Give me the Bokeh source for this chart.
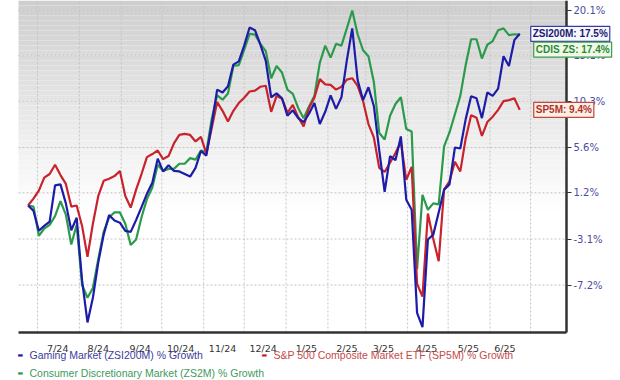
from datetime import datetime, timedelta
import numpy as np
from bokeh.plotting import figure
from bokeh.models import (ColumnDataSource, Range1d, FixedTicker, CustomJSTickFormatter,
                          Label, BoxAnnotation)
from bokeh.embed import file_html
from bokeh.resources import INLINE

# ---------------- data (percent growth, sampled every 4 days) ----------------
start_date = datetime(2024, 6, 24)
step_days = 4

gaming = [0.0, -0.5, -2.35, -1.9, -1.5, 1.9, 2.0, 0.2, -2.3, -1.15,
          -6.8, -10.4, -8.3, -5.2, -2.7, -0.9, -1.4, -1.6, -2.35, -2.45,
          -1.35, -0.15, 1.1, 2.15, 4.5, 3.25, 3.85, 3.3, 3.25, 3.0,
          2.75, 3.6, 5.25, 4.8, 7.95, 11.5, 11.2, 11.85, 14.15, 14.5,
          16.2, 18.2, 17.9, 16.3, 14.55, 10.7, 11.1, 10.6, 8.8, 9.35,
          8.55, 8.15, 9.0, 10.1, 7.95, 9.2, 10.9, 9.5, 10.7, 14.6,
          18.1, 12.5, 10.4, 11.75, 9.8, 5.3, 1.3, 4.75, 4.35, 6.7,
          0.55, -0.4, -9.6, -10.8, -3.15, -2.7, -0.65, 1.5, 2.0, 5.6,
          5.5, 8.45, 10.8, 10.6, 8.55, 11.2, 10.85, 11.6, 15.05, 14.0,
          16.8, 17.5]

sp500 = [0.0, 0.65, 1.4, 2.65, 3.0, 3.9, 2.9, 2.05, -0.1, 0.0,
         -1.9, -4.7, -1.7, 0.9, 2.35, 2.55, 2.8, 3.3, 0.9, -0.2,
         1.5, 3.0, 4.65, 4.95, 5.3, 4.45, 4.75, 6.0, 6.85, 6.95,
         6.85, 6.2, 6.65, 5.0, 7.55, 10.2, 9.3, 8.2, 9.3, 10.1,
         10.65, 11.3, 11.4, 11.8, 11.9, 9.2, 10.85, 10.55, 9.1, 9.9,
         8.65, 7.7, 9.6, 10.65, 12.6, 12.05, 12.0, 11.5, 11.8, 12.55,
         12.7, 11.9, 10.3, 7.95, 6.6, 3.6, 3.2, 4.1, 5.05, 6.15,
         2.45, 3.7, -7.1, -8.2, -0.75, -3.1, -5.1, 1.5, 2.3, 4.2,
         3.25, 6.5, 8.85, 8.6, 6.75, 8.15, 8.7, 9.4, 10.3, 10.4,
         10.6, 9.4]

consumer = [0.0, -0.1, -2.8, -2.15, -1.8, -1.0, 0.4, -0.85, -3.6, -1.8,
            -7.2, -8.3, -7.45, -4.9, -2.45, -1.1, -0.65, -0.65, -1.7, -3.65,
            -3.15, -1.1, 0.6, 1.7, 3.9, 3.3, 3.5, 3.5, 4.0, 4.0,
            4.55, 4.4, 5.3, 5.15, 8.5, 10.9, 10.45, 11.1, 14.0, 14.1,
            15.75, 17.5, 17.4, 16.4, 15.6, 12.7, 14.0, 13.3, 11.5, 11.05,
            9.6, 8.55, 9.75, 10.85, 14.35, 16.2, 14.9, 16.4, 16.2, 18.1,
            20.1, 17.45, 15.7, 15.05, 12.3, 7.05, 6.4, 8.8, 10.0, 10.7,
            7.45, 7.2, -5.8, 1.0, -0.4, 0.2, 0.1, 5.7, 7.1, 8.95,
            10.85, 14.1, 16.9, 16.9, 14.8, 16.3, 16.7, 17.9, 18.1, 17.35,
            17.45, 17.4]

y_tick_pcts = [20.1, 15.1, 10.3, 5.6, 1.2, -3.1, -7.2]
x_tick_dates = [datetime(2024, 7, 16), datetime(2024, 8, 15), datetime(2024, 9, 15),
                datetime(2024, 10, 15), datetime(2024, 11, 15), datetime(2024, 12, 15),
                datetime(2025, 1, 16), datetime(2025, 2, 15), datetime(2025, 3, 14),
                datetime(2025, 4, 15), datetime(2025, 5, 16), datetime(2025, 6, 12)]
month_starts = [datetime(2024, m, 1) for m in range(7, 13)] + [datetime(2025, m, 1) for m in range(1, 8)]

series = [
    ("consumer", consumer, "#2c9a4c", "Consumer Discretionary Market (ZS2M) % Growth", "#3e9a5e"),
    ("sp500", sp500, "#c8232c", "S&P 500 Composite Market ETF (SP5M) % Growth", "#c44a4a"),
    ("gaming", gaming, "#1c1ca8", "Gaming Market (ZSI200M) % Growth", "#3c3c9c"),
]

dates = [start_date + timedelta(days=step_days * i) for i in range(len(gaming))]

def ms(d):
    return (d - datetime(1970, 1, 1)).total_seconds() * 1000.0

# ---------------- layout (whole canvas is the frame; axes placed at fixed locations) -------
W, H = 620, 380
px_per_day = 1.3508
x_start = datetime(2024, 7, 1) - timedelta(days=37 / px_per_day)
x_end = x_start + timedelta(days=W / px_per_day)
area_left = x_start + timedelta(days=18 / px_per_day)      # plot area left edge
area_right = x_start + timedelta(days=566 / px_per_day)    # right axis position
ln_per_px = 0.00093932
y_hi = float(1.201 * np.exp(10 * ln_per_px))               # canvas top
y_lo = float(np.exp(np.log(y_hi) - H * ln_per_px))          # canvas bottom
area_bottom = float(np.exp(np.log(y_hi) - 332 * ln_per_px))  # bottom axis position

p = figure(width=W, height=H, x_axis_type="datetime", y_axis_type="log",
           y_axis_location="right", output_backend="svg", toolbar_location=None,
           x_range=Range1d(x_start, x_end), y_range=Range1d(y_lo, y_hi),
           min_border=0)
p.outline_line_color = None
p.background_fill_color = "white"
p.border_fill_color = "white"
p.xgrid.visible = False
p.ygrid.visible = False

# background gradient (decorative) inside the plot area
n_bands = 42
band_px = 5.0
for k in range(n_bands):
    a = k * band_px
    b = (k + 1) * band_px
    top = float(np.exp(np.log(y_hi) - a * ln_per_px))
    bot = float(np.exp(np.log(y_hi) - b * ln_per_px))
    g = int(min(255, 206 + (a + 2.5) * 0.235))
    p.add_layout(BoxAnnotation(top=top, bottom=bot, left=ms(area_left), right=ms(area_right),
                               fill_color=(g, g, g), fill_alpha=1.0,
                               line_color=None, level="underlay"))

# grid lines, limited to the plot area
yt = [1 + t / 100.0 for t in y_tick_pcts]
p.segment(x0=month_starts, x1=month_starts, y0=[area_bottom] * len(month_starts),
          y1=[y_hi] * len(month_starts), line_color="#c4c4c4", line_dash="2 2", line_width=1)
p.segment(x0=[area_left] * len(yt), x1=[area_right] * len(yt), y0=yt, y1=yt,
          line_color="#c4c4c4", line_dash="2 2", line_width=1)

# axes
p.xaxis.fixed_location = area_bottom
p.xaxis.ticker = FixedTicker(ticks=[ms(d) for d in x_tick_dates])
p.xaxis.formatter = CustomJSTickFormatter(code="""
const d = new Date(tick);
return (d.getUTCMonth() + 1) + '/' + String(d.getUTCFullYear()).slice(2);
""")
p.xaxis.major_tick_line_color = None
p.xaxis.minor_tick_line_color = None
p.xaxis.axis_line_color = "#333333"
p.xaxis.axis_line_width = 2.5
p.xaxis.major_label_text_font = "DejaVu Sans"
p.xaxis.major_label_text_font_size = "9.5px"
p.xaxis.major_label_text_color = "#333333"
p.xaxis.major_label_standoff = 4
p.xaxis.bounds = (ms(area_left), ms(area_right))

p.yaxis.fixed_location = ms(area_right)
p.yaxis.ticker = FixedTicker(ticks=yt)
p.yaxis.formatter = CustomJSTickFormatter(code="return ((tick - 1) * 100).toFixed(1) + '%';")
p.yaxis.axis_line_color = "#333333"
p.yaxis.axis_line_width = 2.5
p.yaxis.major_tick_line_color = "#333333"
p.yaxis.major_tick_out = 5
p.yaxis.major_tick_in = 0
p.yaxis.minor_tick_line_color = None
p.yaxis.major_label_text_font = "DejaVu Sans"
p.yaxis.major_label_text_font_size = "10px"
p.yaxis.major_label_text_color = "#4b4ba0"
p.yaxis.major_label_standoff = 2
p.yaxis.bounds = (area_bottom, y_hi)

# lines
for key, vals, color, _, _ in series:
    src = ColumnDataSource(dict(x=dates, y=[1 + v / 100.0 for v in vals]))
    p.line("x", "y", source=src, line_color=color, line_width=2.2)

# end value tags
tags = [
    ("ZSI200M: ", gaming, "#1a1a70", "#f6f6ff", "#3a3aa0", 11, 0),
    ("CDIS ZS: ", consumer, "#2a8a3a", "#f0f8e6", "#3a9a50", 14, -15),
    ("SP5M: ", sp500, "#b03030", "#fdf0e2", "#c04848", 14, 0),
]
for name, vals, tcol, fcol, bcol, xo, yo in tags:
    p.add_layout(Label(x=dates[-1], y=1 + vals[-1] / 100.0, x_offset=xo, y_offset=yo,
                       text=f"{name}{vals[-1]:.1f}%", text_font="Liberation Sans",
                       text_font_size="10px", text_font_style="bold", text_color=tcol,
                       text_baseline="middle", text_align="left",
                       background_fill_color=fcol, border_line_color=bcol,
                       border_line_width=1.2, padding=2, level="overlay"))

# legend (manual, coloured texts)
legend_pos = {"gaming": (17, 26), "sp500": (261, 26), "consumer": (17, 8)}
for key, vals, color, text, tcolor in series:
    lx, ly = legend_pos[key]
    p.add_layout(Label(x=lx, y=ly, x_units="screen", y_units="screen", text="\u25ac",
                       text_font="DejaVu Sans", text_font_size="6px", text_color=color,
                       text_baseline="middle", text_align="left"))
    p.add_layout(Label(x=lx + 12, y=ly, x_units="screen", y_units="screen", text=text,
                       text_font="Liberation Sans", text_font_size="10.5px",
                       text_color=tcolor, text_baseline="middle", text_align="left"))

open("out.html", "w").write(file_html(p, INLINE))
